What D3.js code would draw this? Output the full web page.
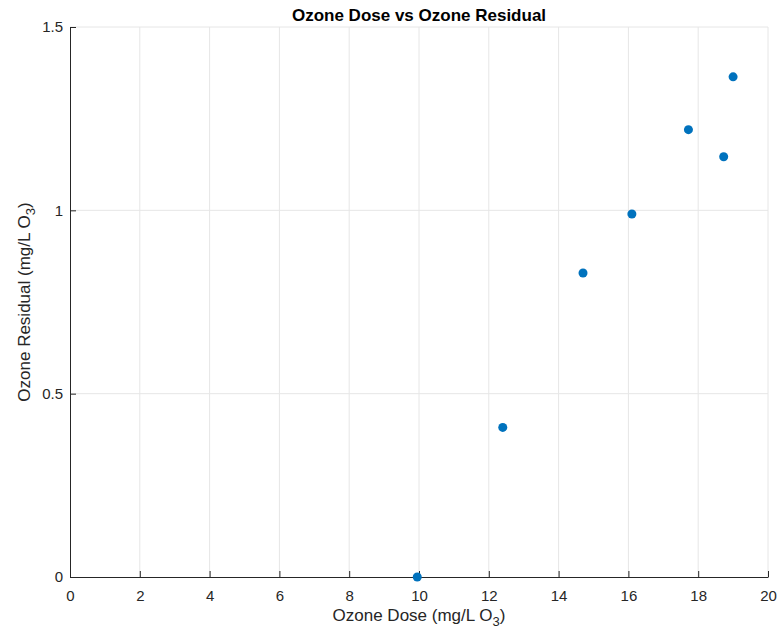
<!DOCTYPE html>
<html><head><meta charset="utf-8">
<script src="https://cdn.jsdelivr.net/npm/d3@7"></script>
<style>body{margin:0;background:#fff;} text{font-family:"Liberation Sans",Arial,Helvetica,sans-serif;}</style>
</head><body>
<svg id="c" width="777" height="632"></svg>
<script>
const doses = [9.95, 12.4, 14.7, 16.1, 17.72, 18.73, 19.0];
const residuals = [0.0, 0.408, 0.829, 0.99, 1.22, 1.146, 1.364];
const xTicks = [0,2,4,6,8,10,12,14,16,18,20];
const yTicks = [0,0.5,1,1.5];

const svg = d3.select("#c");
const L=70, R=768, T=27, B=577;
const x = d3.scaleLinear().domain([0,20]).range([L,R]);
const y = d3.scaleLinear().domain([0,1.5]).range([B,T]);

// grid
svg.append("g").selectAll("line").data(xTicks.slice(1)).join("line")
  .attr("x1",d=>x(d)).attr("x2",d=>x(d)).attr("y1",T).attr("y2",B)
  .attr("stroke","#e6e6e6").attr("stroke-width",1);
svg.append("g").selectAll("line").data(yTicks.slice(1)).join("line")
  .attr("x1",L).attr("x2",R).attr("y1",d=>y(d)).attr("y2",d=>y(d))
  .attr("stroke","#e6e6e6").attr("stroke-width",1);

const xa = svg.append("g").attr("transform",`translate(0,${B})`)
  .call(d3.axisBottom(x).tickValues(xTicks).tickSizeInner(-6).tickSizeOuter(0).tickPadding(13).tickFormat(d3.format("d")));
const ya = svg.append("g").attr("transform",`translate(${L},0)`)
  .call(d3.axisLeft(y).tickValues(yTicks).tickSizeInner(-6).tickSizeOuter(0).tickPadding(7).tickFormat(d=>String(d)));
[xa,ya].forEach(a=>{
  a.select(".domain").attr("stroke","#262626");
  a.selectAll(".tick line").attr("stroke","#262626");
  a.selectAll("text").attr("fill","#262626").style("font-size","15px");
});

// points
svg.append("g").selectAll("circle").data(doses.map((d,i)=>[d,residuals[i]])).join("circle")
  .attr("cx",d=>x(d[0])).attr("cy",d=>y(d[1])).attr("r",4.5).attr("fill","#0072BD");

// title
svg.append("text").attr("x",(L+R)/2).attr("y",21).attr("text-anchor","middle")
  .style("font-size","17px").style("font-weight","bold").attr("fill","#000").text("Ozone Dose vs Ozone Residual");

// x label
const xl = svg.append("text").attr("x",(L+R)/2).attr("y",621).attr("text-anchor","middle")
  .style("font-size","17px").attr("fill","#262626");
xl.append("tspan").text("Ozone Dose (mg/L O");
xl.append("tspan").attr("dy",5).style("font-size","13px").text("3");
xl.append("tspan").attr("dy",-5).text(")");

// y label
const yl = svg.append("text").attr("transform",`translate(30,${(T+B)/2}) rotate(-90)`).attr("text-anchor","middle")
  .style("font-size","17px").attr("fill","#262626");
yl.append("tspan").text("Ozone Residual (mg/L O");
yl.append("tspan").attr("dy",5).style("font-size","13px").text("3");
yl.append("tspan").attr("dy",-5).text(")");
</script>
</body></html>
